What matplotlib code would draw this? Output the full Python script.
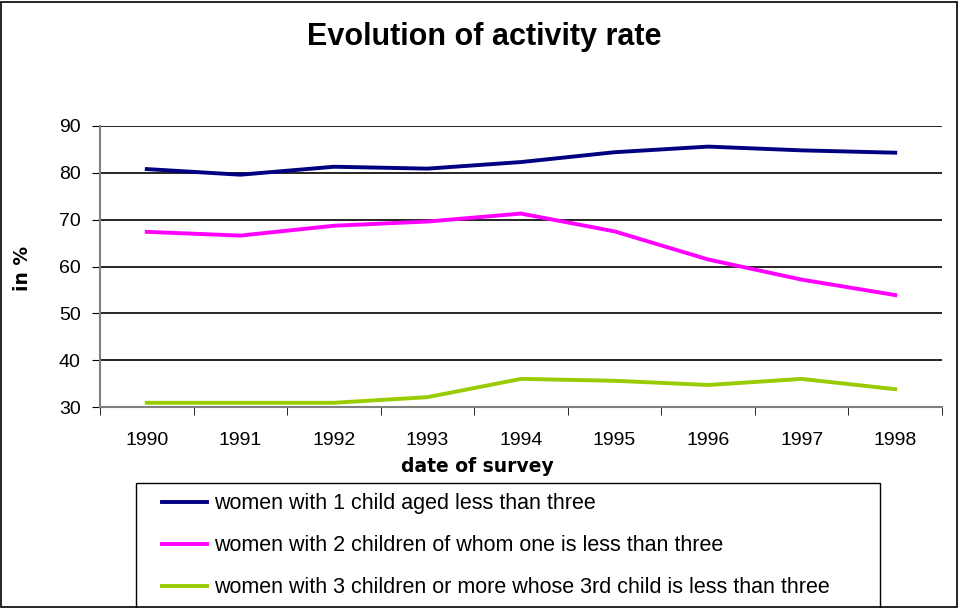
import matplotlib
matplotlib.use("Agg")
import matplotlib.pyplot as plt
from matplotlib.patches import Rectangle

plt.rcParams['font.family'] = ['Liberation Sans', 'DejaVu Sans']

years = ["1990", "1991", "1992", "1993", "1994", "1995", "1996", "1997", "1998"]
one_child = [80.8, 79.6, 81.3, 80.9, 82.3, 84.4, 85.6, 84.8, 84.3]
two_children = [67.4, 66.6, 68.7, 69.6, 71.3, 67.5, 61.5, 57.2, 53.9]
three_children = [30.9, 30.9, 30.9, 32.1, 36.0, 35.6, 34.7, 36.0, 33.8]
labels = ["women with 1 child aged less than three",
          "women with 2 children of whom one is less than three",
          "women with 3 children or more whose 3rd child is less than three"]
colors = ["#000080", "#FF00FF", "#99CC00"]
yticks = [30, 40, 50, 60, 70, 80, 90]

W, H = 959, 608
fig = plt.figure(figsize=(W / 100, H / 100), dpi=100)
ax = fig.add_axes([100 / W, 1 - 407 / H, (942 - 100) / W, (407 - 126) / H])

x = list(range(len(years)))
lines = []
for vals, c, lab in zip([one_child, two_children, three_children], colors, labels):
    l, = ax.plot(x, vals, color=c, lw=2.8, label=lab, solid_joinstyle='round')
    lines.append(l)

ax.set_xlim(-0.5, len(years) - 0.5)
ax.set_ylim(30, 90)
ax.set_yticks(yticks)
ax.set_yticklabels([str(v) for v in yticks], fontsize=14)
ax.set_xticks(x)
ax.set_xticklabels(years, fontsize=14)
ax.set_xticks([i - 0.5 for i in range(len(years) + 1)], minor=True)
ax.tick_params(axis='x', which='major', length=0, pad=18)
ax.tick_params(axis='x', which='minor', length=6, direction='out', color='black')
ax.tick_params(axis='y', length=6, direction='out', pad=8)
for v in yticks[1:]:
    ax.axhline(v, color='black', lw=1.2, zorder=0)
for s in ['top', 'right']:
    ax.spines[s].set_visible(False)
ax.spines['left'].set_color('#808080')
ax.spines['bottom'].set_color('#808080')
ax.spines['left'].set_linewidth(1.5)
ax.spines['bottom'].set_linewidth(1.5)

fig.text(484 / W, 1 - 37 / H, "Evolution of activity rate", ha='center', va='center',
         fontsize=22, fontweight='bold')
fig.text(22 / W, 1 - 268 / H, "in %", ha='center', va='center', rotation=90,
         fontsize=13.5, fontweight='bold', family='DejaVu Sans')
fig.text(477 / W, 1 - 466 / H, "date of survey", ha='center', va='center',
         fontsize=13.5, fontweight='bold', family='DejaVu Sans')

leg = fig.legend(handles=lines, loc='upper left', bbox_to_anchor=(145 / W, 1 - 476 / H),
                 fontsize=15.5, frameon=False,
                 handlelength=2.1, handletextpad=0.3, labelspacing=0.98, borderpad=0.3)

fig.patches.append(Rectangle((136 / W, -0.01), (880 - 136) / W, 0.01 + (608 - 483) / H,
                             transform=fig.transFigure, fill=False, edgecolor='black', lw=1.0))
fig.patches.append(Rectangle((1 / W, 1 / H), (W - 3) / W, (H - 3) / H, transform=fig.transFigure,
                             fill=False, edgecolor='black', lw=1.2))

fig.savefig("out.png", dpi=100)
